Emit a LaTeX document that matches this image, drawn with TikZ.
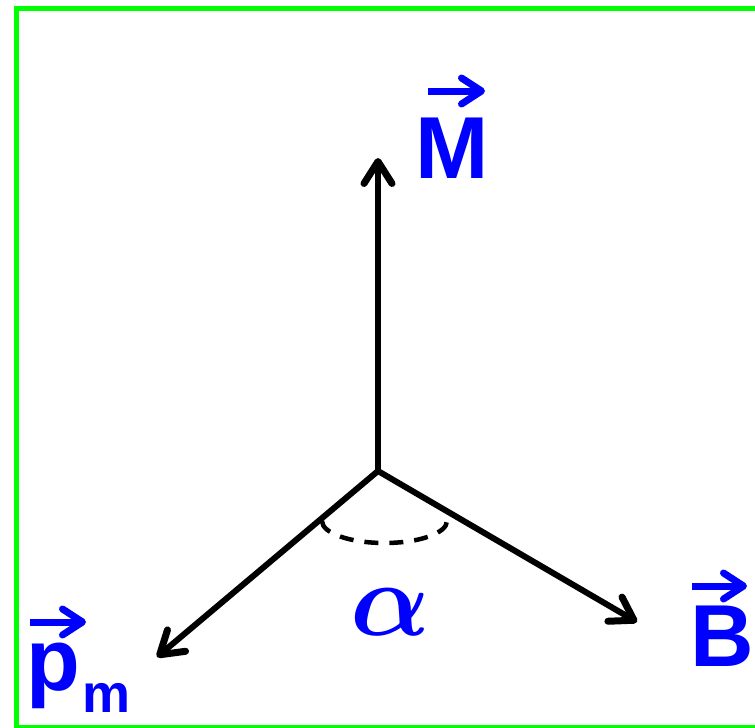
\documentclass[tikz,border=0pt]{standalone}
\usepackage{fontspec}
\setmainfont{Liberation Sans}
\usetikzlibrary{arrows.meta}
\definecolor{lblue}{RGB}{0,0,255}
\definecolor{lgreen}{RGB}{0,255,0}
\begin{document}
\begin{tikzpicture}[x=1pt,y=-1pt,
 arm/.style={line width=6pt, -{Straight Barb[length=22pt,width=28pt,line width=7pt,line cap=round,line join=round]}},
 veclab/.style={text=lblue, font=\fontsize{88}{88}\selectfont\bfseries, inner sep=0pt, anchor=base west},
 sublab/.style={text=lblue, font=\fontsize{54}{54}\selectfont\bfseries, inner sep=0pt, anchor=base west},
 vecarr/.style={draw=lblue, line width=7pt, -{Straight Barb[length=20pt,width=26pt,line cap=round,line join=round]}},
 anglearc/.style={line width=4.5pt, dash pattern=on 14pt off 11pt},
 frame/.style={draw=lgreen, line width=5pt}
]
\useasboundingbox (0,0) rectangle (755,728);
\draw[frame] (16.5,8.5) rectangle (762,727);

\coordinate (O) at (378,471);
\coordinate (tM) at (378,158);
\coordinate (tP) at (157,657);
\coordinate (tB) at (637,622);

\draw[arm] (O) -- (tM);
\draw[arm] (O) -- (tP);
\draw[arm] (O) -- (tB);

\draw[anglearc] (322,521) arc[start angle=180, end angle=0, x radius=62.5, y radius=22];

\node[veclab] (M) at (415,178) {M};
\node[veclab] (B) at (690,666) {B};
\node[veclab] (P) at (26.5,690) {p};
\node[sublab] (m) at (82,712) {m};
\node[text=lblue, font=\boldmath, scale=10.5, inner sep=0pt] (al) at (390,612) {$\alpha$};

\draw[vecarr] ([shift={(13,-87)}]M.base west) -- ([shift={(70,-87)}]M.base west);
\draw[vecarr] ([shift={(2,-80)}]B.base west) -- ([shift={(57,-80)}]B.base west);
\draw[vecarr] ([shift={(3.5,-68)}]P.base west) -- ([shift={(59.5,-68)}]P.base west);
\end{tikzpicture}
\end{document}
